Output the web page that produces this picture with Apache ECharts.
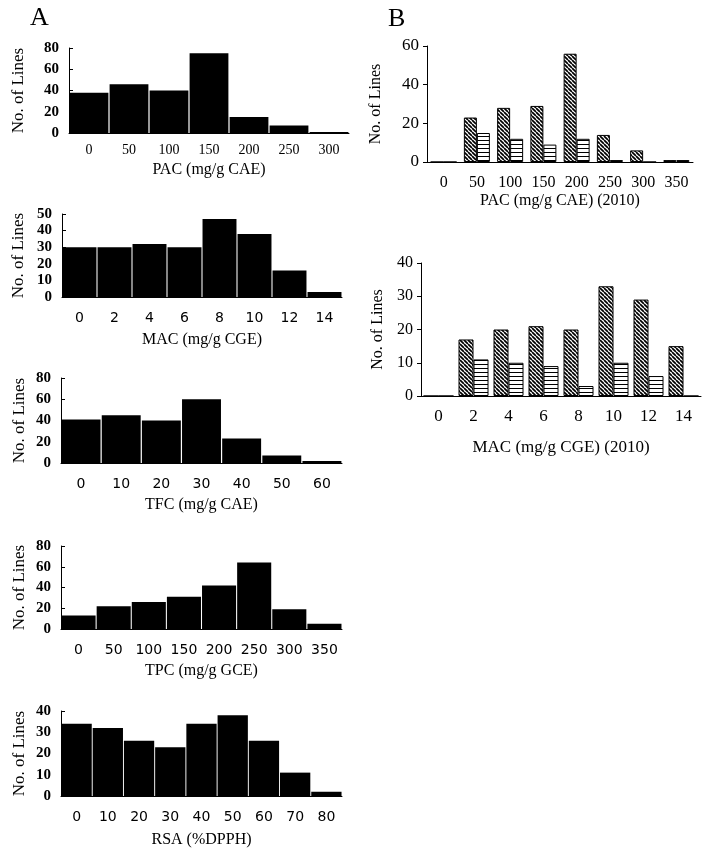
<!DOCTYPE html>
<html>
<head>
<meta charset="utf-8">
<script src="https://cdn.jsdelivr.net/npm/echarts@6/dist/echarts.min.js"></script>
<style>
html,body{margin:0;padding:0;background:#fff;}
#chart{width:711px;height:856px;}
</style>
</head>
<body>
<div id="chart"></div>
<script>
// ---- data ----
const pacCats = ['0','50','100','150','200','250','300'];
const pacCounts = [38, 46, 40, 75, 15, 7, 1];
const macCats = ['0','2','4','6','8','10','12','14'];
const macCounts = [30, 30, 32, 30, 47, 38, 16, 3];
const tfcCats = ['0','10','20','30','40','50','60'];
const tfcCounts = [41, 45, 40, 60, 23, 7, 2];
const tpcCats = ['0','50','100','150','200','250','300','350'];
const tpcCounts = [13, 22, 26, 31, 42, 64, 19, 5];
const rsaCats = ['0','10','20','30','40','50','60','70','80'];
const rsaCounts = [34, 32, 26, 23, 34, 38, 26, 11, 2];
const pac2010Cats = ['0','50','100','150','200','250','300','350'];
const pac2010Hatched = [0, 23, 28, 29, 56, 14, 6, 1];
const pac2010Striped = [0, 15, 12, 9, 12, 1, 0, 1];
const mac2010Cats = ['0','2','4','6','8','10','12','14'];
const mac2010Hatched = [0, 17, 20, 21, 20, 33, 29, 15];
const mac2010Striped = [0, 11, 10, 9, 3, 10, 6, 0];

const SERIF = '"Liberation Serif", "Times New Roman", serif';
const SANS = '"DejaVu Sans", Verdana, sans-serif';

function diagPattern() {
  const c = document.createElement('canvas');
  c.width = 4; c.height = 4;
  const g = c.getContext('2d');
  g.fillStyle = '#fff'; g.fillRect(0, 0, 4, 4);
  g.strokeStyle = '#000'; g.lineWidth = 1.7;
  for (const k of [-4, 0, 4]) {
    g.beginPath(); g.moveTo(k, 0); g.lineTo(k + 4, 4); g.stroke();
  }
  return { image: c, repeat: 'repeat' };
}
function horizPattern() {
  const c = document.createElement('canvas');
  c.width = 4; c.height = 4;
  const g = c.getContext('2d');
  g.fillStyle = '#fff'; g.fillRect(0, 0, 4, 4);
  g.fillStyle = '#000'; g.fillRect(0, 0, 4, 1);
  return { image: c, repeat: 'repeat' };
}

const panelsA = [
  { cats: pacCats, vals: pacCounts, name: 'PAC (mg/g CAE)', max: 80, step: 20,
    box: [69, 48, 280, 85], xFont: SERIF, xSize: 14, xMargin: 10, nameGap: 29, yGap: 42 },
  { cats: macCats, vals: macCounts, name: 'MAC (mg/g CGE)', max: 50, step: 10,
    box: [62, 214, 280, 83], xFont: SANS, xSize: 14, xMargin: 14, nameGap: 35, yGap: 35 },
  { cats: tfcCats, vals: tfcCounts, name: 'TFC (mg/g CAE)', max: 80, step: 20,
    box: [61, 378, 281, 85], xFont: SANS, xSize: 14, xMargin: 14, nameGap: 34, yGap: 33 },
  { cats: tpcCats, vals: tpcCounts, name: 'TPC (mg/g GCE)', max: 80, step: 20,
    box: [61, 546, 281, 83], xFont: SANS, xSize: 14, xMargin: 14, nameGap: 34, yGap: 33 },
  { cats: rsaCats, vals: rsaCounts, name: 'RSA (%DPPH)', max: 40, step: 10,
    box: [61, 711, 281, 85], xFont: SANS, xSize: 14, xMargin: 14, nameGap: 36, yGap: 33 }
];
const panelsB = [
  { cats: pac2010Cats, a: pac2010Hatched, b: pac2010Striped, name: 'PAC (mg/g CAE) (2010)', max: 60, step: 20,
    box: [427, 46, 266, 116], size: 16, ySize: 17, xMargin: 13, nameGap: 31, yGap: 43, barW: 13 },
  { cats: mac2010Cats, a: mac2010Hatched, b: mac2010Striped, name: 'MAC (mg/g CGE) (2010)', max: 40, step: 10,
    box: [421, 263, 280, 133], size: 17, ySize: 16, xMargin: 12, nameGap: 43, yGap: 35, barW: 15 }
];

const grid = [], xAxis = [], yAxis = [], series = [];
const blackLine = { show: true, lineStyle: { color: '#000', width: 1 } };

panelsA.forEach((p, i) => {
  grid.push({ left: p.box[0], top: p.box[1], width: p.box[2], height: p.box[3], containLabel: false, outerBoundsMode: 'none' });
  xAxis.push({
    type: 'category', gridIndex: i, data: p.cats,
    axisLine: blackLine, axisTick: { show: false },
    axisLabel: { color: '#000', fontFamily: p.xFont, fontSize: p.xSize, margin: p.xMargin },
    name: p.name, nameLocation: 'middle', nameGap: p.nameGap,
    nameTextStyle: { color: '#000', fontFamily: SERIF, fontSize: 16 },
    splitLine: { show: false }
  });
  yAxis.push({
    type: 'value', gridIndex: i, min: 0, max: p.max, interval: p.step,
    axisLine: blackLine, axisTick: { show: true, inside: true, length: 4, lineStyle: { color: '#000' } },
    axisLabel: { color: '#000', fontFamily: SERIF, fontSize: 15, fontWeight: 'bold', margin: 10 },
    name: 'No. of Lines', nameLocation: 'middle', nameGap: p.yGap,
    nameTextStyle: { color: '#000', fontFamily: SERIF, fontSize: 17 },
    splitLine: { show: false }
  });
  series.push({
    type: 'bar', xAxisIndex: i, yAxisIndex: i, data: p.vals,
    barCategoryGap: '3%', itemStyle: { color: '#000' }, silent: true
  });
});

panelsB.forEach((p, j) => {
  const i = panelsA.length + j;
  grid.push({ left: p.box[0], top: p.box[1], width: p.box[2], height: p.box[3], containLabel: false, outerBoundsMode: 'none' });
  xAxis.push({
    type: 'category', gridIndex: i, data: p.cats,
    axisLine: blackLine, axisTick: { show: false },
    axisLabel: { color: '#000', fontFamily: SERIF, fontSize: p.size, margin: p.xMargin },
    name: p.name, nameLocation: 'middle', nameGap: p.nameGap,
    nameTextStyle: { color: '#000', fontFamily: SERIF, fontSize: p.size },
    splitLine: { show: false }
  });
  yAxis.push({
    type: 'value', gridIndex: i, min: 0, max: p.max, interval: p.step,
    axisLine: blackLine, axisTick: { show: true, inside: false, length: 4, lineStyle: { color: '#000' } },
    axisLabel: { color: '#000', fontFamily: SERIF, fontSize: p.ySize, margin: 8 },
    name: 'No. of Lines', nameLocation: 'middle', nameGap: p.yGap,
    nameTextStyle: { color: '#000', fontFamily: SERIF, fontSize: 16 },
    splitLine: { show: false }
  });
  series.push({
    type: 'bar', xAxisIndex: i, yAxisIndex: i, data: p.a, barWidth: p.barW, barGap: '0%',
    itemStyle: { color: diagPattern(), borderColor: '#000', borderWidth: 1 }, silent: true
  });
  series.push({
    type: 'bar', xAxisIndex: i, yAxisIndex: i, data: p.b, barWidth: p.barW, barGap: '0%',
    itemStyle: { color: horizPattern(), borderColor: '#000', borderWidth: 1 }, silent: true
  });
});

const chart = echarts.init(document.getElementById('chart'), null, { renderer: 'canvas' });
chart.setOption({
  animation: false,
  backgroundColor: '#fff',
  grid, xAxis, yAxis, series,
  graphic: [
    { type: 'text', left: 30, top: 5, style: { text: 'A', font: '26px ' + SERIF, fill: '#000' } },
    { type: 'text', left: 388, top: 6, style: { text: 'B', font: '26px ' + SERIF, fill: '#000' } }
  ]
});
</script>
</body>
</html>
